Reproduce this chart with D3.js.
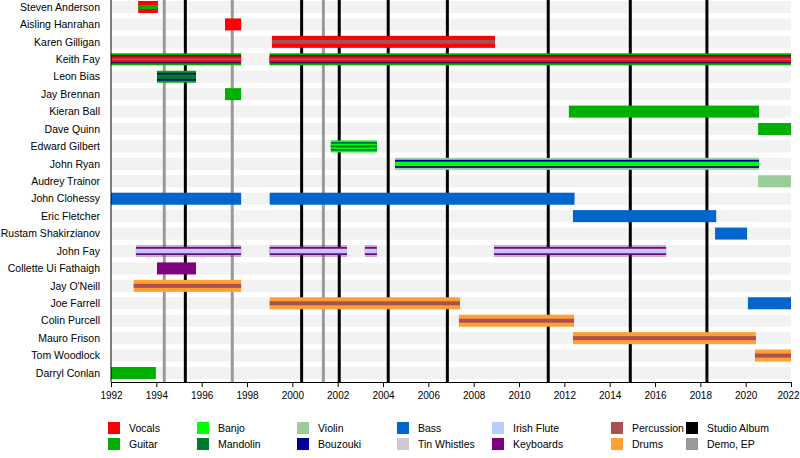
<!DOCTYPE html>
<html>
<head>
<meta charset="utf-8">
<script src="https://cdn.jsdelivr.net/npm/d3@7"></script>
<style>
  body { margin: 0; background: #fff; }
  svg { display: block; font-family: "Liberation Sans", Arial, sans-serif; }
</style>
</head>
<body>
<div id="chart"></div>
<script>
// miembros, de arriba a abajo
const members = [
  "Steven Anderson", "Aisling Hanrahan", "Karen Gilligan", "Keith Fay",
  "Leon Bias", "Jay Brennan", "Kieran Ball", "Dave Quinn", "Edward Gilbert",
  "John Ryan", "Audrey Trainor", "John Clohessy", "Eric Fletcher",
  "Rustam Shakirzianov", "John Fay", "Collette Ui Fathaigh", "Jay O'Neill",
  "Joe Farrell", "Colin Purcell", "Mauro Frison", "Tom Woodlock", "Darryl Conlan",
];

const instruments = ["Vocals", "Guitar", "Banjo", "Mandolin", "Violin", "Bouzouki",
  "Bass", "Tin Whistles", "Irish Flute", "Keyboards", "Percussion", "Drums"];
const instrumentColors = ["#ff0000", "#00b000", "#00ff00", "#007a33", "#99cc99", "#000099",
  "#0066cc", "#cccccc", "#b8ccff", "#800080", "#aa5050", "#ffa030"];

// [miembro, desde, hasta, instrumentos (de fuera hacia dentro), sesión]
const periods = [
  ["Steven Anderson", 1993.2, 1994.07, ["Vocals", "Guitar"]],
  ["Aisling Hanrahan", 1997.03, 1997.74, ["Vocals"]],
  ["Karen Gilligan", 1999.1, 2008.94, ["Vocals", "Percussion"]],
  ["Keith Fay", 1992, 1997.74, ["Guitar", "Bouzouki", "Vocals", "Percussion"]],
  ["Keith Fay", 1999.0, 2022, ["Guitar", "Bouzouki", "Vocals", "Percussion"]],
  ["Leon Bias", 1994.03, 1995.75, ["Guitar", "Bouzouki", "Mandolin"]],
  ["Jay Brennan", 1997.03, 1997.74, ["Guitar"]],
  ["Kieran Ball", 2012.2, 2020.59, ["Guitar"]],
  ["Dave Quinn", 2020.55, 2022, ["Guitar"]],
  ["Edward Gilbert", 2001.7, 2003.73, ["Banjo", "Bouzouki", "Banjo", "Mandolin"]],
  ["John Ryan", 2004.53, 2020.59, ["Violin", "Bouzouki", "Banjo"]],
  ["Audrey Trainor", 2020.55, 2022, ["Violin"]],
  ["John Clohessy", 1992, 1997.74, ["Bass"]],
  ["John Clohessy", 1999.0, 2012.45, ["Bass"]],
  ["Eric Fletcher", 2012.38, 2018.7, ["Bass"]],
  ["Rustam Shakirzianov", 2018.65, 2020.06, ["Bass"]],
  ["John Fay", 1993.1, 1997.74, ["Keyboards", "Keyboards", "Irish Flute"], true],
  ["John Fay", 1999.0, 2002.41, ["Keyboards", "Keyboards", "Irish Flute"], true],
  ["John Fay", 2003.2, 2003.73, ["Keyboards", "Keyboards", "Irish Flute"], true],
  ["John Fay", 2008.9, 2016.49, ["Keyboards", "Keyboards", "Irish Flute"], true],
  ["Collette Ui Fathaigh", 1994.03, 1995.75, ["Keyboards"]],
  ["Jay O'Neill", 1993.0, 1997.74, ["Drums", "Percussion"]],
  ["Joe Farrell", 1999.0, 2007.4, ["Drums", "Percussion"]],
  ["Joe Farrell", 2020.1, 2022, ["Bass"]],
  ["Colin Purcell", 2007.35, 2012.43, ["Drums", "Percussion"]],
  ["Mauro Frison", 2012.38, 2020.45, ["Drums", "Percussion"]],
  ["Tom Woodlock", 2020.41, 2022, ["Drums", "Percussion"]],
  ["Darryl Conlan", 1992, 1993.98, ["Guitar"]],
];

const studioAlbums = [1995.28, 2000.41, 2002.07, 2004.23, 2006.84, 2011.29, 2014.91, 2018.29];
const demos = [1994.35, 1997.35, 2001.37];

const tickYears = d3.range(1992, 2023, 2);

const legendItems = [
  "Vocals", "Guitar", "Banjo", "Mandolin", "Violin", "Bouzouki", "Bass", "Tin Whistles",
  "Irish Flute", "Keyboards", "Percussion", "Drums", "Studio Album", "Demo, EP",
];

const width = 800, height = 458;
const plotLeft = 111, plotRight = 791, firstRow = 7, lastRow = 373, axisY = 382;

const color = d3.scaleOrdinal()
  .domain(instruments.concat(["Studio Album", "Demo, EP"]))
  .range(instrumentColors.concat(["#000000", "#999999"]));

const x = d3.scaleLinear().domain([1992, 2022]).range([plotLeft, plotRight]);
const y = d3.scalePoint().domain(members).range([firstRow, lastRow]);

const barH = 12;
// alto de cada capa según cuántas tenga la barra
function layerHeights(n) {
  if (n === 1) return [barH];
  if (n === 2) return [barH, 4];
  if (n === 3) return [barH, 8, 4.5];
  return [barH, 8, 6, 2];
}

const svg = d3.select("#chart").append("svg")
  .attr("width", width).attr("height", height);

// bandas de fondo
svg.append("g").selectAll("rect")
  .data(members)
  .join("rect")
  .attr("x", plotLeft).attr("width", plotRight - plotLeft)
  .attr("y", (d) => y(d) - barH / 2).attr("height", barH)
  .attr("fill", "#f2f2f2");

// líneas de lanzamientos
const lines = svg.append("g");
lines.selectAll("line.demo")
  .data(demos)
  .join("line")
  .attr("class", "demo")
  .attr("x1", (d) => x(d)).attr("x2", (d) => x(d))
  .attr("y1", 0).attr("y2", axisY)
  .attr("stroke", color("Demo, EP")).attr("stroke-width", 3);
lines.selectAll("line.album")
  .data(studioAlbums)
  .join("line")
  .attr("class", "album")
  .attr("x1", (d) => x(d)).attr("x2", (d) => x(d))
  .attr("y1", 0).attr("y2", axisY)
  .attr("stroke", color("Studio Album")).attr("stroke-width", 3);

// barras
const bars = svg.append("g");
periods.forEach(([name, from, to, layers, session]) => {
  const hs = layerHeights(layers.length);
  layers.forEach((inst, i) => {
    bars.append("rect")
      .attr("x", x(from))
      .attr("width", x(to) - x(from))
      .attr("y", y(name) - hs[i] / 2)
      .attr("height", hs[i])
      .attr("fill", color(inst))
      .attr("fill-opacity", session && i === 0 ? 0.3 : 1);
  });
});

// nombres
svg.append("g").selectAll("text")
  .data(members)
  .join("text")
  .attr("x", 100)
  .attr("y", (d) => y(d))
  .attr("dy", "0.35em")
  .attr("text-anchor", "end")
  .attr("font-size", 10.5)
  .attr("fill", "#000")
  .text((d) => d);

// eje
const axis = d3.axisBottom(x)
  .tickValues(tickYears)
  .tickFormat(d3.format("d"))
  .tickSize(5)
  .tickSizeOuter(0);

const gAxis = svg.append("g")
  .attr("transform", `translate(0,${axisY})`)
  .call(axis);
gAxis.select(".domain").attr("stroke", "#000");
gAxis.selectAll(".tick line").attr("stroke", "#000");
gAxis.selectAll(".tick text")
  .attr("font-size", 10)
  .attr("font-family", "'Liberation Sans', Arial, sans-serif")
  .attr("fill", "#000")
  .attr("dy", "0.9em");
// el último año pegado al borde
gAxis.selectAll(".tick text")
  .filter((d) => d === 2022)
  .attr("dx", -3);

svg.append("line")
  .attr("x1", plotLeft).attr("x2", plotLeft)
  .attr("y1", 0).attr("y2", axisY)
  .attr("stroke", "#000").attr("stroke-width", 1);

// leyenda
const legendCols = [108, 197, 297, 397, 492, 611, 686];
const legendRows = [428, 444];
const legend = svg.append("g");
legendItems.forEach((item, i) => {
  const col = Math.floor(i / 2), row = i % 2;
  const g = legend.append("g")
    .attr("transform", `translate(${legendCols[col]},${legendRows[row]})`);
  g.append("rect")
    .attr("x", 0).attr("y", -6)
    .attr("width", 12).attr("height", 12)
    .attr("fill", color(item));
  g.append("text")
    .attr("x", 21).attr("y", 0)
    .attr("dy", "0.35em")
    .attr("font-size", 10.5)
    .text(item);
});
</script>
</body>
</html>
